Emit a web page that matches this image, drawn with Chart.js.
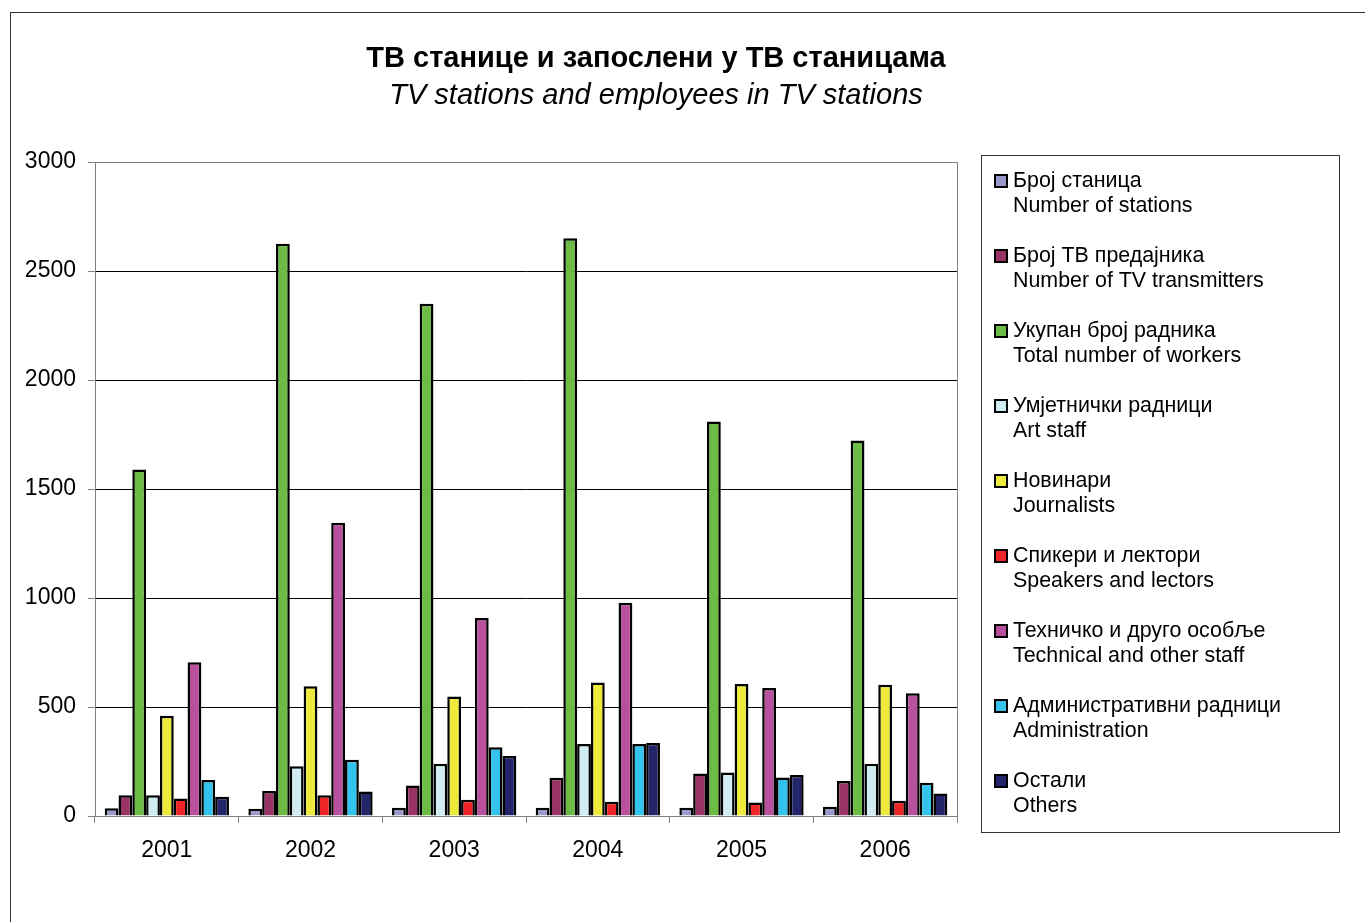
<!DOCTYPE html>
<html>
<head>
<meta charset="utf-8">
<title>TV stations</title>
<script src="https://cdn.jsdelivr.net/npm/chart.js@4.4.0/dist/chart.umd.min.js"></script>
<style>
  html, body { margin: 0; padding: 0; background: #fff; }
  #wrap { position: relative; width: 1365px; height: 922px; overflow: hidden; }
  #frame { position: absolute; left: 10px; top: 12px; width: 2000px; height: 2000px;
           border-left: 1px solid #333; border-top: 1px solid #333; }
  .t { position: absolute; left: 306px; width: 700px; text-align: center; white-space: nowrap;
       font-family: "Liberation Sans", Arial, sans-serif; font-size: 29px; color: #000; line-height: 34px; }
  #t1 { top: 40px; font-weight: bold; }
  #t2 { top: 77px; font-style: italic; }
  canvas { position: absolute; left: 0; top: 0; }
</style>
</head>
<body>
<div id="wrap">
  <div id="frame"></div>
  <canvas id="tvChart" width="1365" height="922"></canvas>
  <div class="t" id="t1">ТВ станице и запослени у ТВ станицама</div>
  <div class="t" id="t2">TV stations and employees in TV stations</div>
</div>
<script>
// podaci
const years = ["2001", "2002", "2003", "2004", "2005", "2006"];
const stations = [35, 33, 38, 38, 38, 42];
const transmitters = [95, 115, 140, 175, 195, 160];
const totalWorkers = [1590, 2625, 2350, 2650, 1810, 1722];
const artStaff = [95, 228, 240, 330, 200, 240];
const journalists = [460, 595, 548, 612, 605, 602];
const speakers = [80, 95, 75, 65, 62, 70];
const technical = [705, 1345, 908, 978, 587, 563];
const administration = [165, 258, 315, 330, 177, 152];
const others = [88, 112, 275, 335, 188, 103];

const seriesLabels = [
  ["Број станица", "Number of stations"],
  ["Број ТВ предајника", "Number of TV transmitters"],
  ["Укупан број радника", "Total number of workers"],
  ["Умјетнички радници", "Art staff"],
  ["Новинари", "Journalists"],
  ["Спикери и лектори", "Speakers and lectors"],
  ["Техничко и друго особље", "Technical and other staff"],
  ["Административни радници", "Administration"],
  ["Остали", "Others"]
];
const seriesData = [stations, transmitters, totalWorkers, artStaff, journalists,
  speakers, technical, administration, others];
const colors = ["#9999CC", "#993366", "#6CBB45", "#CFECF3", "#EEEA3C",
  "#EE2427", "#B9509E", "#33C4EE", "#23256B"];

const font = "Liberation Sans, Arial, sans-serif";

// okvir oko plot area
const plotBorder = {
  id: "plotBorder",
  beforeDatasetsDraw(chart) {
    const a = chart.chartArea, ctx = chart.ctx;
    ctx.save();
    ctx.strokeStyle = "#808080";
    ctx.lineWidth = 1;
    ctx.strokeRect(Math.round(a.left) + 0.5, Math.round(a.top) + 0.5,
      Math.round(a.right - a.left), Math.round(a.bottom - a.top));
    ctx.restore();
  }
};

// legenda u dva reda
const twoLineLegend = {
  id: "twoLineLegend",
  afterDraw(chart) {
    const ctx = chart.ctx;
    ctx.save();
    ctx.strokeStyle = "#333";
    ctx.lineWidth = 1;
    ctx.strokeRect(981.5, 155.5, 358, 677);
    ctx.font = "21.4px " + font;
    ctx.textBaseline = "middle";
    ctx.textAlign = "left";
    chart.data.datasets.forEach((ds, i) => {
      const y = 181 + i * 75;
      ctx.fillStyle = ds.backgroundColor;
      ctx.fillRect(995, y - 6, 12, 12);
      ctx.strokeStyle = "#000";
      ctx.lineWidth = 2;
      ctx.strokeRect(995, y - 6, 12, 12);
      ctx.fillStyle = "#000";
      ctx.fillText(ds.label[0], 1013, y);
      ctx.fillText(ds.label[1], 1013, y + 25);
    });
    ctx.restore();
  }
};

const ctx = document.getElementById("tvChart").getContext("2d");
new Chart(ctx, {
  type: "bar",
  data: {
    labels: years,
    datasets: seriesData.map((d, i) => ({
      label: seriesLabels[i],
      data: d,
      backgroundColor: colors[i],
      borderColor: "#000",
      borderWidth: 2.5,
      barPercentage: 1,
      categoryPercentage: 0.865
    }))
  },
  options: {
    responsive: false,
    animation: false,
    layout: { padding: { left: 10, top: 162, right: 408, bottom: 40 } },
    plugins: {
      legend: { display: false },
      tooltip: { enabled: false },
      title: { display: false }
    },
    scales: {
      x: {
        afterFit: s => { s.height = 66; },
        grid: { offset: true, drawOnChartArea: false, tickLength: 7, color: "#808080" },
        border: { color: "#808080" },
        ticks: { color: "#000", font: { family: font, size: 23 }, padding: 14 }
      },
      y: {
        min: 0,
        max: 3000,
        afterFit: s => { s.width = 85; },
        ticks: {
          stepSize: 500, color: "#000", font: { family: font, size: 23 }, padding: 12,
          callback: v => String(v)
        },
        grid: { color: "#000", tickColor: "#808080", tickLength: 7 },
        border: { color: "#808080" }
      }
    }
  },
  plugins: [plotBorder, twoLineLegend]
});
</script>
</body>
</html>
